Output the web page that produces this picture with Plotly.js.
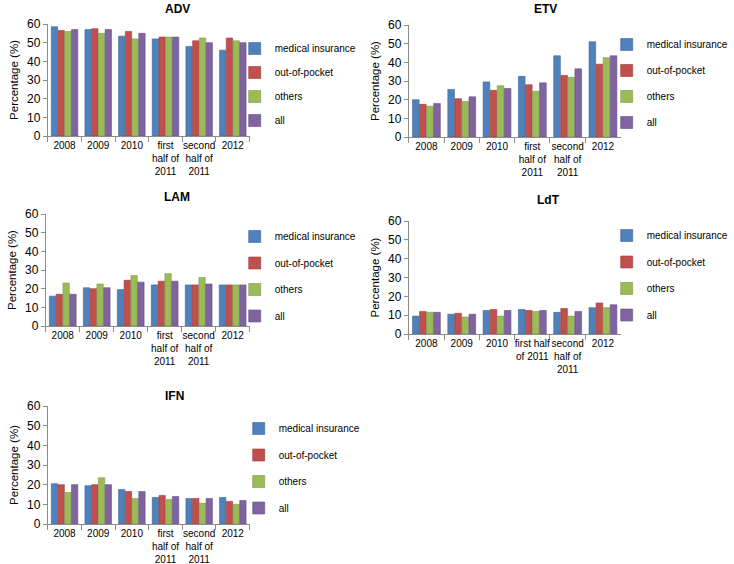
<!DOCTYPE html>
<html>
<head>
<meta charset="utf-8">
<script src="https://cdn.plot.ly/plotly-3.0.1.min.js"></script>
<style>html,body{margin:0;padding:0;background:#fff;}#chart{width:734px;height:564px;}</style>
</head>
<body>
<div id="chart"></div>
<script>
// ---- data ----
const categories = ['2008', '2009', '2010', 'first<br>half of<br>2011', 'second<br>half of<br>2011', '2012'];
const ldtTickLabels = ['2008', '2009', '2010', 'first half<br>of 2011', 'second<br>half of<br>2011', '2012'];
const seriesNames = ['medical insurance', 'out-of-pocket', 'others', 'all'];
const panelTitles = ['ADV', 'ETV', 'LAM', 'LdT', 'IFN'];

const advMedical = [58.5, 57, 53.5, 52, 48, 46];
const advOutOfPocket = [56.5, 57.5, 56, 53, 51, 52.5];
const advOthers = [56, 55, 52, 53, 52.5, 51];
const advAll = [57, 57, 55, 53, 50, 50];

const etvMedical = [20, 25.5, 29.5, 32.5, 43.5, 51];
const etvOutOfPocket = [17.5, 20.5, 25, 28, 33, 39];
const etvOthers = [16.5, 19, 27.5, 24.5, 32, 42.5];
const etvAll = [18, 21.5, 26, 29, 36.5, 43.5];

const lamMedical = [16, 20.5, 19.5, 22, 22, 22];
const lamOutOfPocket = [17, 20, 24.5, 24, 22, 22];
const lamOthers = [23, 22.5, 27, 28, 26, 22];
const lamAll = [17, 20.5, 23.5, 24, 22.5, 22];

const ldtMedical = [9.5, 10.5, 12.5, 13, 11.5, 14];
const ldtOutOfPocket = [12, 11, 13, 12.5, 13.5, 16.5];
const ldtOthers = [11.5, 9, 9.5, 12, 9.5, 14];
const ldtAll = [11.5, 10.5, 12.5, 12.5, 12, 15.5];

const ifnMedical = [20.5, 19.5, 17.5, 13.5, 13, 13.5];
const ifnOutOfPocket = [20, 20, 16.5, 14.5, 13, 11.5];
const ifnOthers = [16, 23.5, 13, 12.5, 10.5, 10];
const ifnAll = [20, 20, 16.5, 14, 13, 12];

// ---- layout helpers (pixel -> paper) ----
const W = 734, H = 564;
const px = v => v / W;
const py = v => 1 - v / H;

const panelData = [
  [advMedical, advOutOfPocket, advOthers, advAll],
  [etvMedical, etvOutOfPocket, etvOthers, etvAll],
  [lamMedical, lamOutOfPocket, lamOthers, lamAll],
  [ldtMedical, ldtOutOfPocket, ldtOthers, ldtAll],
  [ifnMedical, ifnOutOfPocket, ifnOthers, ifnAll]
];
// plot box in pixels: [left, right, top(60), bottom(0)]
const boxes = [
  [48, 251, 24, 136],
  [411, 624, 25, 137],
  [46, 251, 214, 326],
  [411, 624, 221, 334],
  [48, 251, 406, 524]
];
// legend top-left pixel, group gap, and title position
const legendPos = [[236, 34, 5], [610, 30, 7], [236, 222, 7.5], [610, 221, 7.5], [240, 414, 7.5]];
const titlePos = [[178, 9], [548, 9], [178, 197], [552, 200], [175, 396]];
const colors = ['#4F81BD', '#C0504D', '#9BBB59', '#8064A2'];
const edge = ['#3A6495', '#9A3B38', '#7A9844', '#634D80'];

const traces = [];
const layout = {
  width: W, height: H,
  margin: {l: 0, r: 0, t: 0, b: 0},
  paper_bgcolor: '#ffffff', plot_bgcolor: '#ffffff',
  font: {family: 'Liberation Sans, Arial, sans-serif', color: '#000'},
  barmode: 'group', bargap: 0.2, bargroupgap: 0.06,
  showlegend: true,
  annotations: []
};

panelData.forEach((series, p) => {
  const n = p + 1;
  const xa = 'xaxis' + (n === 1 ? '' : n), ya = 'yaxis' + (n === 1 ? '' : n);
  const xr = 'x' + (n === 1 ? '' : n), yr = 'y' + (n === 1 ? '' : n);
  const lg = 'legend' + (n === 1 ? '' : n);
  series.forEach((vals, s) => {
    traces.push({
      type: 'bar', x: categories, y: vals, name: seriesNames[s],
      xaxis: xr, yaxis: yr, legend: lg, legendgroup: 'p' + n + 's' + s,
      marker: {color: colors[s], line: {color: edge[s], width: 0.6}},
      hoverinfo: 'x+y+name'
    });
  });
  const b = boxes[p];
  layout[xa] = {
    domain: [px(b[0]), px(b[1])], anchor: yr, type: 'category',
    showline: true, linecolor: '#8c8c8c', linewidth: 1,
    ticks: 'outside', tickson: 'boundaries', ticklen: 5, tickcolor: '#8c8c8c',
    tickfont: {size: 10, color: '#000'}, tickangle: 0,
    showgrid: false, zeroline: false, fixedrange: true
  };
  if (p === 3) {
    layout[xa].tickmode = 'array';
    layout[xa].tickvals = categories;
    layout[xa].ticktext = ldtTickLabels;
  }
  layout[ya] = {
    domain: [py(b[3]), py(b[2])], anchor: xr, range: [0, 60],
    tickvals: [0, 10, 20, 30, 40, 50, 60],
    showline: true, linecolor: '#8c8c8c', linewidth: 1,
    ticks: 'outside', ticklen: 4, tickcolor: '#8c8c8c',
    tickfont: {size: 12, color: '#000'},
    showgrid: false, zeroline: false, fixedrange: true,
    title: {text: 'Percentage (%)', font: {size: 11.5, color: '#000'}, standoff: 5}
  };
  const lp = legendPos[p];
  layout[lg] = {
    x: px(lp[0]), y: py(lp[1]), xanchor: 'left', yanchor: 'top',
    xref: 'paper', yref: 'paper',
    traceorder: 'grouped', tracegroupgap: lp[2],
    font: {size: 10, color: '#000'}, bgcolor: 'rgba(0,0,0,0)', borderwidth: 0,
    itemwidth: 30
  };
  const tp = titlePos[p];
  layout.annotations.push({
    text: '<b>' + panelTitles[p] + '</b>', xref: 'paper', yref: 'paper',
    x: px(tp[0]), y: py(tp[1]), xanchor: 'center', yanchor: 'middle',
    showarrow: false, font: {size: 12, color: '#000'}
  });
});

Plotly.newPlot('chart', traces, layout, {displayModeBar: false, staticPlot: true});
</script>
</body>
</html>
